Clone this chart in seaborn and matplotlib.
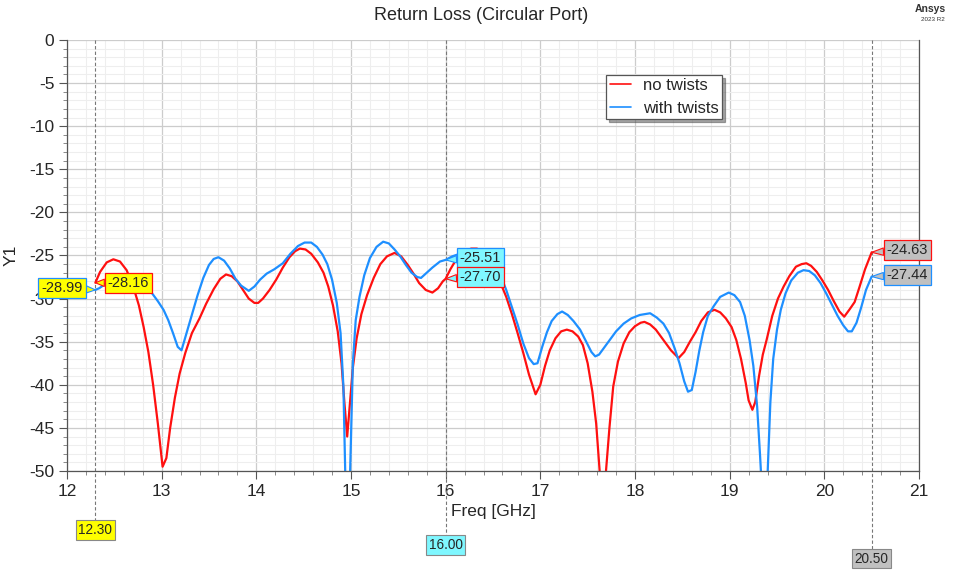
import numpy as np
import pandas as pd
import matplotlib
matplotlib.use("Agg")
import matplotlib.pyplot as plt
import matplotlib.transforms as mtransforms
from matplotlib.ticker import MultipleLocator
from matplotlib.lines import Line2D
import seaborn as sns

# ---- data ----
freq_no = [12.30, 12.35, 12.42, 12.49, 12.56, 12.63, 12.70, 12.76, 12.81, 12.86,
           12.91, 12.96, 13.01, 13.05, 13.09, 13.14, 13.19, 13.25, 13.32, 13.40,
           13.47, 13.55, 13.62, 13.68, 13.74, 13.80, 13.86, 13.92, 13.98, 14.02,
           14.07, 14.14, 14.21, 14.28, 14.35, 14.41, 14.46, 14.52, 14.58, 14.65,
           14.71, 14.76, 14.81, 14.86, 14.90, 14.93, 14.96, 14.99, 15.02, 15.06,
           15.11, 15.17, 15.24, 15.31, 15.38, 15.46, 15.53, 15.60, 15.66, 15.72,
           15.79, 15.86, 15.92, 15.97, 16.00, 16.05, 16.12, 16.20, 16.27, 16.33,
           16.40, 16.46, 16.52, 16.58, 16.64, 16.70, 16.76, 16.82, 16.88, 16.95,
           17.00, 17.05, 17.10, 17.16, 17.22, 17.28, 17.34, 17.40, 17.45, 17.50,
           17.55, 17.59, 17.63, 17.66, 17.69, 17.73, 17.77, 17.82, 17.88, 17.94,
           18.00, 18.06, 18.10, 18.16, 18.22, 18.30, 18.38, 18.46, 18.52, 18.58,
           18.64, 18.70, 18.77, 18.84, 18.90, 18.96, 19.02, 19.07, 19.12, 19.17,
           19.20, 19.24, 19.27, 19.31, 19.35, 19.39, 19.45, 19.51, 19.57, 19.63,
           19.70, 19.76, 19.81, 19.86, 19.92, 19.98, 20.04, 20.10, 20.16, 20.21,
           20.27, 20.32, 20.37, 20.43, 20.50]
rl_no = [-28.16, -26.9, -25.8, -25.44, -25.7, -26.7, -28.6, -30.8, -33.3, -36.2,
         -40.0, -44.5, -49.5, -48.5, -45.0, -41.5, -38.7, -36.3, -34.0, -32.3,
         -30.6, -28.9, -27.7, -27.2, -27.4, -28.0, -29.0, -30.0, -30.5, -30.5,
         -30.0, -29.0, -27.8, -26.4, -25.2, -24.5, -24.2, -24.3, -24.8, -25.8,
         -27.0, -28.6, -30.8, -33.8, -37.5, -42.0, -46.0, -42.0, -38.0, -34.6,
         -31.8, -29.6, -27.6, -26.0, -25.1, -24.7, -25.1, -26.1, -27.1, -28.2,
         -29.0, -29.3, -28.8, -28.0, -27.70, -26.6, -25.3, -24.5, -24.2, -24.2,
         -24.6, -25.5, -26.8, -28.2, -29.8, -31.8, -34.0, -36.3, -38.8, -41.1,
         -40.0, -37.8, -36.0, -34.6, -33.8, -33.6, -33.8, -34.4, -35.4, -37.5,
         -40.8, -44.5, -50.5, -55.0, -50.5, -45.0, -40.2, -37.3, -35.2, -33.9,
         -33.2, -32.8, -32.7, -33.0, -33.6, -34.8, -36.0, -36.9, -36.2, -35.0,
         -33.9, -32.6, -31.6, -31.3, -31.6, -32.3, -33.3, -34.8, -37.0, -39.8,
         -41.8, -42.9, -42.0, -39.0, -36.5, -34.8, -32.0, -30.0, -28.6, -27.4,
         -26.3, -26.0, -25.9, -26.2, -26.9, -27.9, -29.0, -30.3, -31.5, -32.1,
         -31.2, -30.4, -28.7, -26.6, -24.63]

freq_tw = [12.30, 12.34, 12.38, 12.44, 12.50, 12.57, 12.63, 12.70, 12.77, 12.84,
           12.90, 12.96, 13.02, 13.07, 13.12, 13.17, 13.21, 13.25, 13.29, 13.33,
           13.38, 13.44, 13.50, 13.55, 13.60, 13.66, 13.72, 13.78, 13.84, 13.92,
           13.98, 14.04, 14.11, 14.19, 14.28, 14.36, 14.44, 14.51, 14.58, 14.64,
           14.70, 14.75, 14.80, 14.85, 14.89, 14.92, 14.94, 14.96, 14.99, 15.02,
           15.05, 15.09, 15.14, 15.20, 15.27, 15.34, 15.40, 15.46, 15.52, 15.58,
           15.64, 15.70, 15.74, 15.80, 15.86, 15.94, 16.00, 16.07, 16.15, 16.24,
           16.33, 16.40, 16.46, 16.52, 16.58, 16.64, 16.70, 16.76, 16.82, 16.88,
           16.93, 16.97, 17.02, 17.07, 17.12, 17.18, 17.23, 17.29, 17.35, 17.42,
           17.48, 17.54, 17.58, 17.62, 17.68, 17.74, 17.80, 17.88, 17.96, 18.05,
           18.16, 18.23, 18.30, 18.36, 18.42, 18.47, 18.52, 18.56, 18.60, 18.64,
           18.68, 18.72, 18.77, 18.83, 18.90, 18.99, 19.05, 19.11, 19.16, 19.21,
           19.25, 19.29, 19.32, 19.34, 19.37, 19.40, 19.43, 19.46, 19.50, 19.54,
           19.59, 19.65, 19.72, 19.78, 19.84, 19.90, 19.96, 20.02, 20.08, 20.14,
           20.20, 20.25, 20.29, 20.34, 20.39, 20.44, 20.50]
rl_tw = [-28.99, -28.8, -28.5, -27.9, -27.5, -27.25, -27.2, -27.4, -27.9, -28.6,
         -29.4, -30.3, -31.3, -32.5, -34.0, -35.6, -36.0, -34.5, -33.0, -31.5,
         -29.6, -27.6, -26.1, -25.4, -25.2, -25.6, -26.5, -27.7, -28.5, -29.1,
         -28.6, -27.8, -27.1, -26.6, -25.9, -24.8, -23.9, -23.5, -23.5, -24.0,
         -24.9, -26.0, -27.8, -30.5, -34.0, -40.2, -50.5, -58.0, -50.5, -37.5,
         -32.5, -29.8, -27.3, -25.3, -24.0, -23.4, -23.6, -24.3, -25.1, -26.1,
         -27.0, -27.5, -27.6, -27.0, -26.4, -25.7, -25.51, -25.1, -24.8, -24.5,
         -24.4, -24.7, -25.4, -26.2, -27.3, -29.0, -31.0, -33.0, -35.2, -36.9,
         -37.6, -37.5, -35.6, -33.9, -32.6, -31.8, -31.5, -31.9, -32.6, -33.6,
         -34.9, -36.2, -36.7, -36.5, -35.6, -34.7, -33.8, -32.9, -32.3, -31.9,
         -31.7, -32.2, -32.9, -34.0, -35.8, -37.5, -39.6, -40.8, -40.6, -38.5,
         -36.0, -33.9, -32.0, -30.9, -29.8, -29.3, -29.6, -30.4, -32.0, -34.8,
         -37.8, -42.5, -48.0, -52.0, -58.0, -50.5, -42.0, -37.0, -33.6, -31.3,
         -29.4, -27.9, -27.0, -26.7, -26.8, -27.3, -28.2, -29.4, -30.7, -32.0,
         -33.1, -33.8, -33.8, -32.8, -31.0, -29.0, -27.44]

series_names = ["no twists", "with twists"]
x_ticks = [12, 13, 14, 15, 16, 17, 18, 19, 20, 21]
y_ticks = [0, -5, -10, -15, -20, -25, -30, -35, -40, -45, -50]

df = pd.concat([
    pd.DataFrame({"Freq": freq_no, "Y1": rl_no, "curve": series_names[0]}),
    pd.DataFrame({"Freq": freq_tw, "Y1": rl_tw, "curve": series_names[1]}),
], ignore_index=True)

sns.set_theme(style="white")
plt.rcParams["font.family"] = ["Liberation Sans", "DejaVu Sans"]
plt.rcParams["axes.unicode_minus"] = False

fig = plt.figure(figsize=(9.58, 5.71), dpi=100)
ax = fig.add_axes([0.0699, 0.1751, 0.8894, 0.7549])

RED = "#ff1010"
BLUE = "#1e8fff"
sns.lineplot(data=df, x="Freq", y="Y1", hue="curve", palette=[RED, BLUE],
             linewidth=1.6, ax=ax, sort=False, estimator=None, legend=False)

ax.set_xlim(12, 21)
ax.set_ylim(-50, 0)
ax.set_xticks(x_ticks)
ax.set_yticks(y_ticks)
ax.xaxis.set_minor_locator(MultipleLocator(0.2))
ax.yaxis.set_minor_locator(MultipleLocator(1))
ax.grid(which="major", color="#cccccc", linewidth=0.9)
ax.grid(which="minor", color="#eeeeee", linewidth=0.8)
ax.set_axisbelow(True)
ax.tick_params(axis="both", which="major", direction="out", length=6, width=0.8,
               color="#555555", labelsize=12.5, pad=3, bottom=True, left=True)
ax.tick_params(axis="both", which="minor", direction="out", length=3, width=0.6,
               color="#777777", bottom=True, left=True)
for s in ["left", "bottom", "right"]:
    ax.spines[s].set_color("#555555")
    ax.spines[s].set_linewidth(0.9)
ax.spines["top"].set_visible(False)
ax.set_xlabel("Freq [GHz]", fontsize=12.5, labelpad=4)
ax.set_ylabel("Y1", fontsize=12.5, labelpad=8)

fig.text(0.502, 0.973, "Return Loss (Circular Port)", ha="center", va="center", fontsize=13)
fig.text(0.987, 0.985, "Ansys", ha="right", va="center", fontsize=7.5, fontweight="bold", color="#333333")
fig.text(0.986, 0.965, "2023 R2", ha="right", va="center", fontsize=4.5, color="#333333")

# legend
handles = [Line2D([0], [0], color=RED, lw=1.2), Line2D([0], [0], color=BLUE, lw=1.2)]
leg = ax.legend(handles, series_names, loc="upper left", bbox_to_anchor=(0.633, 0.919),
                fontsize=12, frameon=True, fancybox=False, shadow=True, handlelength=1.3,
                handletextpad=0.7, borderpad=0.2, labelspacing=0.45, borderaxespad=0)
leg.get_frame().set_edgecolor("#555555")
leg.get_frame().set_linewidth(0.9)

# markers
trans = mtransforms.blended_transform_factory(ax.transData, ax.transAxes)
markers = [
    (12.30, -0.137, "#ffff00", "12.30"),
    (16.00, -0.172, "#7ff7ff", "16.00"),
    (20.50, -0.203, "#c0c0c0", "20.50"),
]
for xv, ybox, col, lab in markers:
    ax.plot([xv, xv], [1.0, ybox], transform=trans, clip_on=False, color="#777777",
            lw=0.8, ls=(0, (3, 2)), zorder=1)
    ax.text(xv, ybox, lab, transform=trans, ha="center", va="center", fontsize=9.8,
            bbox=dict(boxstyle="square,pad=0.2", fc=col, ec="#888888", lw=0.8), zorder=5)

# value callouts
callouts = [
    (12.30, -28.16, 12.43, -28.2, "#ffff00", RED),
    (12.30, -28.99, 11.73, -28.8, "#ffff00", BLUE),
    (16.00, -25.51, 16.15, -25.3, "#7ff7ff", BLUE),
    (16.00, -27.70, 16.15, -27.5, "#7ff7ff", RED),
    (20.50, -24.63, 20.66, -24.4, "#c0c0c0", RED),
    (20.50, -27.44, 20.66, -27.3, "#c0c0c0", BLUE),
]
for xv, yv, xt, yt, fc, ec in callouts:
    ax.annotate(f"{yv:.2f}", xy=(xv, yv), xytext=(xt, yt), ha="left", va="center",
                fontsize=10.5, annotation_clip=False,
                bbox=dict(boxstyle="square,pad=0.2", fc=fc, ec=ec, lw=0.9),
                arrowprops=dict(arrowstyle="wedge,tail_width=0.5", fc=fc, ec=ec, lw=0.8,
                                shrinkA=0, shrinkB=0), zorder=6)

fig.savefig("out.png", dpi=100, facecolor="white")
